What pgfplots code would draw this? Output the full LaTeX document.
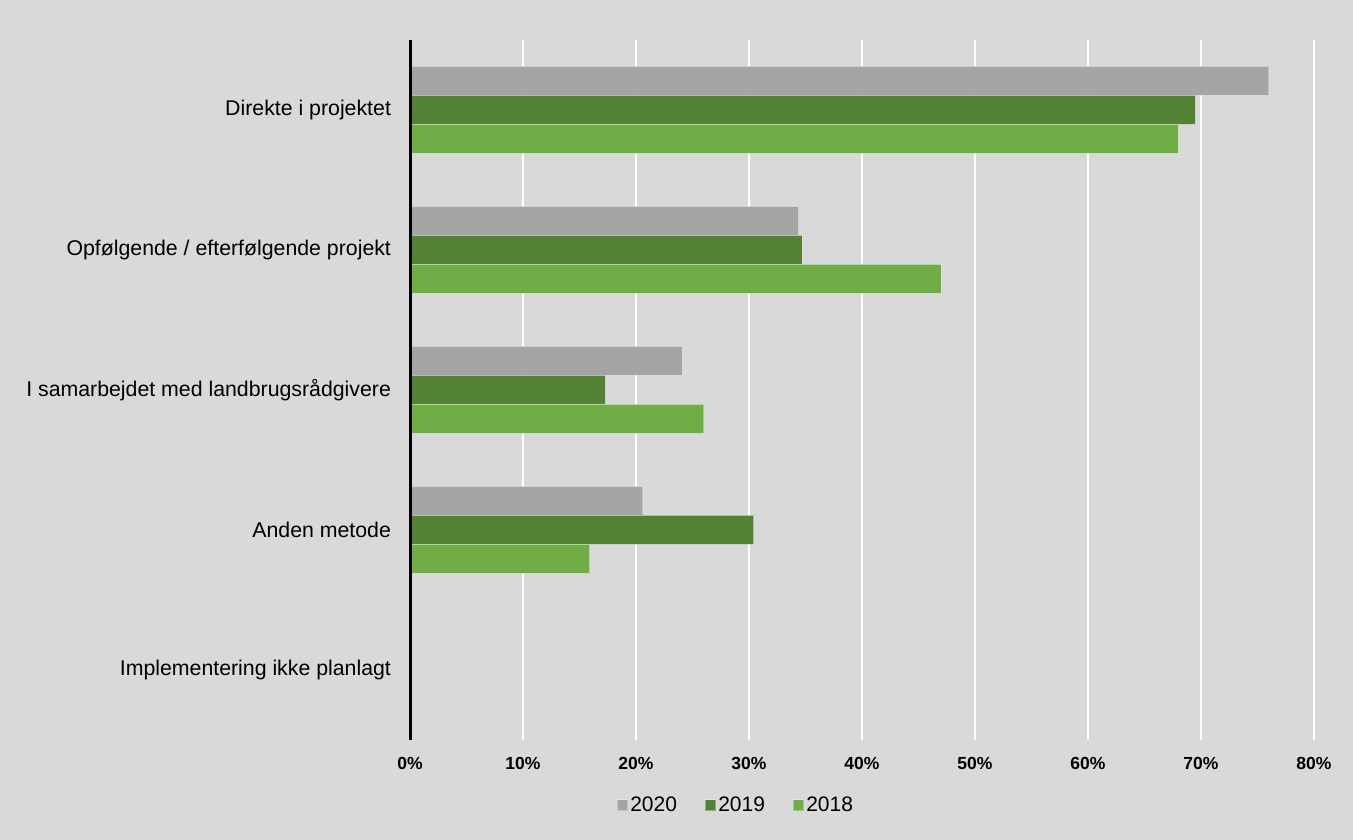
\documentclass[border=0pt]{standalone}
\usepackage{fontspec}
\setmainfont{Liberation Sans}
\usepackage{pgfplots}
\pgfplotsset{compat=1.18}
\definecolor{bg}{HTML}{D9D9D9}
\definecolor{cA}{HTML}{A5A5A5}
\definecolor{cB}{HTML}{548235}
\definecolor{cC}{HTML}{70AD47}
\begin{document}
\begin{tikzpicture}[x=1pt,y=1pt]
\fill[bg] (0,0) rectangle (1353,840);
\begin{axis}[
  name=ax,
  at={(410pt,100pt)}, anchor=south west,
  width=904pt, height=700pt, scale only axis,
  xbar, bar width=29pt,
  xmin=0, xmax=80, ymin=-0.5, ymax=4.5,
  ytick={0,1,2,3,4},
  yticklabels={Implementering ikke planlagt, Anden metode, I samarbejdet med landbrugsrådgivere, Opfølgende / efterfølgende projekt, Direkte i projektet},
  xtick={0,10,...,80},
  xticklabel={\pgfmathprintnumber{\tick}\%},
  /pgf/number format/assume math mode=true,
  axis lines*=left,
  x axis line style={draw=none},
  y axis line style={draw=none},
  major tick length=0pt,
  xmajorgrids, major grid style={white, line width=1.2pt},
  xticklabel style={font=\fontsize{17.5}{20}\selectfont\bfseries, yshift=-14pt},
  yticklabel style={font=\fontsize{21.3}{25}\selectfont, xshift=-15.5pt},
  legend style={at={(0.3606,-0.0929)}, anchor=center, draw=none, fill=none,
    legend columns=-1, font=\fontsize{21}{25}\selectfont,
    /tikz/every even column/.append style={column sep=26pt}},
  legend image code/.code={\fill[#1] (0pt,-5.5pt) rectangle (10.5pt,5.5pt);},
  every axis plot/.append style={draw=white, draw opacity=0.35, line width=0.8pt},
]
\addplot[fill=cA, bar shift=29pt] coordinates {(76,4) (34.4,3) (24.1,2) (20.6,1) (0,0)};
\addplot[fill=cB, bar shift=0pt] coordinates {(69.5,4) (34.7,3) (17.3,2) (30.4,1) (0,0)};
\addplot[fill=cC, bar shift=-29pt] coordinates {(68,4) (47,3) (26,2) (15.9,1) (0,0)};
\legend{2020,2019,2018}
\end{axis}
\draw[black, line width=3pt] (ax.south west) -- (ax.north west);
\pgfresetboundingbox
\useasboundingbox (0,0) rectangle (1353,840);
\end{tikzpicture}
\end{document}
